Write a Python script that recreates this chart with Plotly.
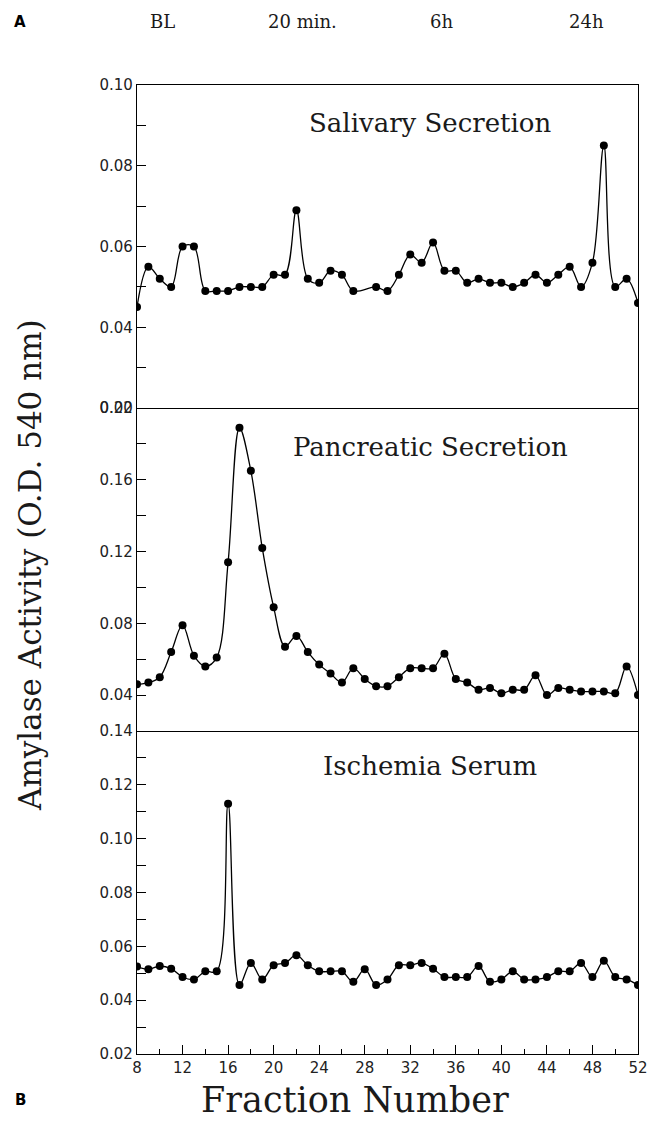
import plotly.graph_objects as go
from plotly.subplots import make_subplots

# ---------------- data ----------------
frac_sal = [8, 9, 10, 11, 12, 13, 14, 15, 16, 17, 18, 19, 20, 21, 22, 23, 24, 25, 26, 27,
            29, 30, 31, 32, 33, 34, 35, 36, 37, 38, 39, 40, 41, 42, 43, 44, 45, 46, 47, 48,
            49, 50, 51, 52]
salivary = [0.045, 0.055, 0.052, 0.050, 0.060, 0.060, 0.049, 0.049, 0.049, 0.050,
            0.050, 0.050, 0.053, 0.053, 0.069, 0.052, 0.051, 0.054, 0.053, 0.049,
            0.050, 0.049, 0.053, 0.058, 0.056, 0.061, 0.054, 0.054, 0.051, 0.052,
            0.051, 0.051, 0.050, 0.051, 0.053, 0.051, 0.053, 0.055, 0.050, 0.056,
            0.085, 0.050, 0.052, 0.046]

frac_all = [8, 9, 10, 11, 12, 13, 14, 15, 16, 17, 18, 19, 20, 21, 22, 23, 24, 25, 26, 27,
            28, 29, 30, 31, 32, 33, 34, 35, 36, 37, 38, 39, 40, 41, 42, 43, 44, 45, 46, 47,
            48, 49, 50, 51, 52]
pancreatic = [0.046, 0.047, 0.050, 0.064, 0.079, 0.062, 0.056, 0.061, 0.114, 0.189,
              0.165, 0.122, 0.089, 0.067, 0.073, 0.064, 0.057, 0.052, 0.047, 0.055,
              0.049, 0.045, 0.045, 0.050, 0.055, 0.055, 0.055, 0.063, 0.049, 0.047,
              0.043, 0.044, 0.041, 0.043, 0.043, 0.051, 0.040, 0.044, 0.043, 0.042,
              0.042, 0.042, 0.041, 0.056, 0.040]
ischemia = [0.0525, 0.0515, 0.0527, 0.0517, 0.0486, 0.0477, 0.0507, 0.0507, 0.113, 0.0456,
            0.0538, 0.0477, 0.053, 0.0538, 0.0567, 0.053, 0.0507, 0.0507, 0.0507, 0.0468,
            0.0515, 0.0456, 0.0477, 0.053, 0.053, 0.0538, 0.0517, 0.0486, 0.0486, 0.0486,
            0.0527, 0.0468, 0.0477, 0.0507, 0.0477, 0.0477, 0.0486, 0.0507, 0.0507, 0.0538,
            0.0486, 0.0546, 0.0486, 0.0477, 0.0456]

panel_titles = ["Salivary Secretion", "Pancreatic Secretion", "Ischemia Serum"]
time_labels = ["BL", "20 min.", "6h", "24h"]
x_ticks = [8, 12, 16, 20, 24, 28, 32, 36, 40, 44, 48, 52]

# ---------------- figure ----------------
fig = make_subplots(rows=3, cols=1, shared_xaxes=True, vertical_spacing=0)

series = [(frac_sal, salivary), (frac_all, pancreatic), (frac_all, ischemia)]
for i, (xs, ys) in enumerate(series, start=1):
    fig.add_trace(go.Scatter(
        x=xs, y=ys, mode="lines+markers",
        line=dict(color="black", width=1.3, shape="spline", smoothing=1.0),
        marker=dict(color="black", size=8),
        hoverinfo="skip"), row=i, col=1)

tick_font = dict(family="DejaVu Sans", size=15, color="#222")
LW = 1.2

y_cfg = [
    dict(range=[0.02, 0.10], tick0=0, dtick=0.02, minor_dtick=0.01),
    dict(range=[0.02, 0.20], tick0=0, dtick=0.04, minor_dtick=0.02),
    dict(range=[0.02, 0.14], tick0=0, dtick=0.02, minor_dtick=0.01),
]
for i, c in enumerate(y_cfg, start=1):
    fig.update_yaxes(row=i, col=1, range=c["range"], tick0=c["tick0"], dtick=c["dtick"],
                     tickformat=".2f", ticks="inside", ticklen=9, tickwidth=1.1,
                     tickcolor="black", tickfont=tick_font, automargin=False,
                     minor=dict(ticks="inside", ticklen=9, tickwidth=1.1, tickcolor="black",
                                dtick=c["minor_dtick"], tick0=0, showgrid=False),
                     showline=True, linecolor="black", linewidth=LW, mirror=True,
                     showgrid=False, zeroline=False)

common_x = dict(range=[8, 52], showgrid=False, zeroline=False, automargin=False,
                showline=True, linecolor="black", linewidth=LW)
fig.update_xaxes(row=1, col=1, ticks="", showticklabels=False, mirror=True, **common_x)
fig.update_xaxes(row=2, col=1, ticks="", showticklabels=False, mirror=False, **common_x)
fig.update_xaxes(row=3, col=1, tickvals=x_ticks, ticks="inside", ticklen=9,
                 tickwidth=1.1, tickcolor="black", tickfont=tick_font, mirror=False,
                 minor=dict(ticks="inside", ticklen=5, tickwidth=1.1, tickcolor="black",
                            dtick=2, tick0=8),
                 **common_x)

serif = "DejaVu Serif"
txt_col = "#1a1a1a"
ann = []
title_y = [0.961, 0.626, 0.297]
for t, yy in zip(panel_titles, title_y):
    ann.append(dict(text=t, x=0.585, y=yy, xref="paper", yref="paper", showarrow=False,
                    xanchor="center", yanchor="middle",
                    font=dict(family=serif, size=26, color=txt_col)))
time_x = [162, 302, 441, 586]
top_y = (1054 - 22) / 969
for t, px in zip(time_labels, time_x):
    ann.append(dict(text=t, x=(px - 137) / 501, y=top_y, xref="paper", yref="paper",
                    showarrow=False, xanchor="center", yanchor="middle",
                    font=dict(family=serif, size=18, color=txt_col)))
ann.append(dict(text="<b>A</b>", x=(20 - 137) / 501, y=top_y, xref="paper",
                yref="paper", showarrow=False, xanchor="center", yanchor="middle",
                font=dict(family="DejaVu Sans", size=15, color="black")))
ann.append(dict(text="<b>B</b>", x=(20 - 137) / 501, y=(1054 - 1100) / 969, xref="paper",
                yref="paper", showarrow=False, xanchor="center", yanchor="middle",
                font=dict(family="DejaVu Sans", size=15, color="black")))
ann.append(dict(text="Fraction Number", x=(355 - 137) / 501, y=(1054 - 1100) / 969,
                xref="paper", yref="paper", showarrow=False, xanchor="center",
                yanchor="middle", font=dict(family=serif, size=35, color=txt_col)))
ann.append(dict(text="Amylase Activity (O.D. 540 nm)", x=(30 - 137) / 501,
                y=(1054 - 565) / 969, xref="paper", yref="paper", showarrow=False,
                textangle=-90, xanchor="center", yanchor="middle",
                font=dict(family=serif, size=31, color=txt_col)))

fig.update_layout(width=651, height=1132, margin=dict(l=137, r=13, t=85, b=78),
                  plot_bgcolor="white", paper_bgcolor="white", showlegend=False,
                  annotations=ann)

fig.write_html("out.html", config={"displayModeBar": False},
               post_script="document.body.style.margin='0';")
